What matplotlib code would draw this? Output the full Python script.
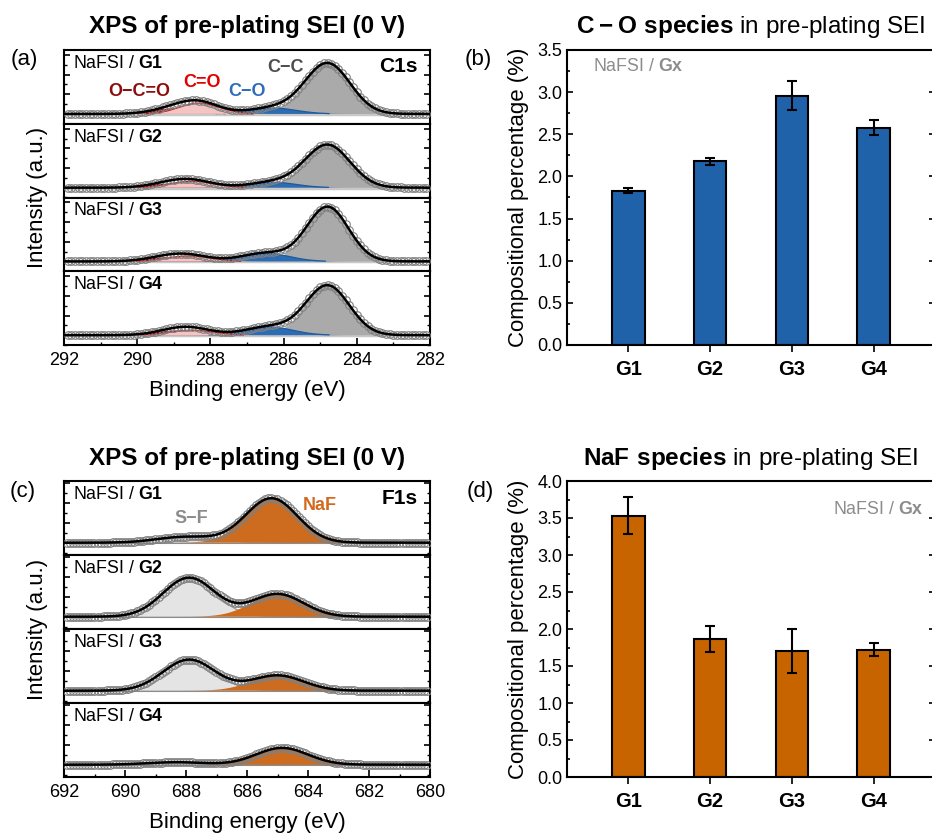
import numpy as np
import matplotlib
matplotlib.use('Agg')
import matplotlib.pyplot as plt
from matplotlib.ticker import MultipleLocator

plt.rcParams['font.family'] = 'Liberation Sans'
plt.rcParams['mathtext.fontset'] = 'custom'
plt.rcParams['mathtext.rm'] = 'Liberation Sans'
plt.rcParams['mathtext.bf'] = 'Liberation Sans:bold'
plt.rcParams['axes.linewidth'] = 1.5

samples = ['G1', 'G2', 'G3', 'G4']

# C1s peak fits: centre (eV), height (norm.), FWHM (eV)
cc_pos = [284.8, 284.8, 284.8, 284.8]
cc_h = [1.03, 0.87, 1.11, 1.01]
cc_w = [1.45, 1.45, 1.35, 1.40]
co_pos = [286.3, 286.3, 286.5, 286.4]
co_h = [0.12, 0.11, 0.17, 0.17]
co_w = [1.5, 1.5, 1.5, 1.5]
cdo_pos = [288.3, 288.5, 288.6, 288.5]
cdo_h = [0.22, 0.13, 0.11, 0.10]
cdo_w = [1.3, 1.4, 1.4, 1.4]
oco_pos = [289.0, 289.1, 289.2, 288.9]
oco_h = [0.10, 0.07, 0.07, 0.08]
oco_w = [1.4, 1.4, 1.4, 1.4]

# F1s peak fits
naf_pos = [685.2, 685.0, 685.0, 684.85]
naf_h = [0.90, 0.46, 0.31, 0.34]
naf_w = [2.0, 2.0, 2.0, 2.0]
sf_pos = [688.0, 687.9, 687.9, 688.3]
sf_h = [0.12, 0.79, 0.63, 0.05]
sf_w = [2.2, 2.0, 2.0, 2.2]

# compositional percentages (b) and (d)
co_pct = [1.83, 2.18, 2.96, 2.58]
co_err = [0.03, 0.04, 0.17, 0.09]
naf_pct = [3.53, 1.86, 1.70, 1.72]
naf_err = [0.25, 0.175, 0.30, 0.09]

W, H = 932, 836
fig = plt.figure(figsize=(W / 100, H / 100), dpi=100)


def box(l, t, r, b):
    return [l / W, 1 - b / H, (r - l) / W, (b - t) / H]


def peak(x, c, h, w):
    return h * np.exp(-4 * np.log(2) * (x - c) ** 2 / w ** 2)


def spectrum_panel(left, top, right, bottom, xlim, ylim, comps, base_kw, core, labels):
    axes = []
    step = (bottom - top) / 4
    for i in range(4):
        ax = fig.add_axes(box(left, top + i * step, right, top + (i + 1) * step))
        xf = np.arange(min(xlim), max(xlim) + 0.001, 0.02)
        xp = np.arange(min(xlim) + 0.1, max(xlim) - 0.05, 0.1)
        ax.axhline(0, zorder=1, **base_kw)
        env = np.zeros_like(xf)
        envp = np.zeros_like(xp)
        for pos, hh, ww, fc, ec in comps:
            y = peak(xf, pos[i], hh[i], ww[i])
            env += y
            envp += peak(xp, pos[i], hh[i], ww[i])
            ax.fill_between(xf, 0, y, facecolor=fc, lw=0, zorder=2)
            if ec is not None:
                m = y > 0.006
                ax.plot(xf[m], y[m], color=ec, lw=0.9, zorder=2)
        ax.plot(xp, envp, 'o', mfc='none', mec='#808080', ms=5.5, mew=0.8, zorder=3)
        ax.plot(xf, env, color='black', lw=1.8, zorder=4)
        ax.set_xlim(*xlim)
        ax.set_ylim(*ylim)
        ax.yaxis.set_major_locator(MultipleLocator(0.4))
        ax.yaxis.set_minor_locator(MultipleLocator(0.2))
        ax.xaxis.set_major_locator(MultipleLocator(2))
        ax.xaxis.set_minor_locator(MultipleLocator(1))
        last = i == 3
        ax.tick_params(which='both', direction='in', left=True, right=True, top=False,
                       bottom=last, labelleft=False, labelbottom=last, labelsize=13)
        ax.tick_params(which='major', length=4, width=1.2)
        ax.tick_params(which='minor', length=2.5, width=1)
        ax.tick_params(axis='x', which='major', length=5, pad=5)
        ax.text(0.025, 0.82, r'NaFSI / $\mathbf{%s}$' % samples[i], transform=ax.transAxes,
                fontsize=12.8, va='center', ha='left', zorder=5)
        axes.append(ax)
    axes[0].text(0.967, 0.77, core, transform=axes[0].transAxes, fontsize=15,
                 fontweight='bold', ha='right', va='center')
    for txt, x, y, col in labels:
        axes[0].text(x, y, txt, color=col, fontsize=13, fontweight='bold',
                     ha='center', va='center', zorder=5)
    axes[3].set_xlabel('Binding energy (eV)', fontsize=16, labelpad=8)
    fig.text(38 / W, 1 - (top + bottom) / 2 / H, 'Intensity (a.u.)', rotation=90,
             fontsize=16, ha='center', va='center')
    fig.text((left + right) / 2 / W, 1 - (top - 23) / H, 'XPS of pre-plating SEI (0 V)',
             fontsize=17.5, fontweight='bold', ha='center', va='center')
    return axes


c1s_comps = [
    (cc_pos, cc_h, cc_w, '#AAAAAA', None),
    (co_pos, co_h, co_w, '#2B6CB3', '#1D5A9E'),
    (oco_pos, oco_h, oco_w, '#B0262B', '#7A0A0A'),
    (cdo_pos, cdo_h, cdo_w, '#F3C4C4', '#E00000'),
]
c1s_labels = [
    ('C\u2212C', 285.94, 0.95, '#4D4D4D'),
    ('C=O', 288.24, 0.63, '#E30000'),
    ('C\u2212O', 287.0, 0.45, '#2E6EB8'),
    ('O\u2212C=O', 289.94, 0.45, '#8B0E0E'),
]
spectrum_panel(64, 50, 430, 345, (292, 282), (-0.2, 1.3), c1s_comps,
               dict(color='#C8C8C8', lw=2.5), 'C1s', c1s_labels)

f1s_comps = [
    (sf_pos, sf_h, sf_w, '#E4E4E4', '#9A9A9A'),
    (naf_pos, naf_h, naf_w, '#CD6B1E', None),
]
f1s_labels = [
    ('NaF', 683.6, 0.76, '#D2691E'),
    ('S\u2212F', 687.83, 0.48, '#8C8C8C'),
]
spectrum_panel(64, 481, 430, 777, (692, 680), (-0.25, 1.25), f1s_comps,
               dict(color='#8C8C8C', lw=1.5), 'F1s', f1s_labels)


def bar_panel(top, bottom, vals, errs, color, ymax, title, tag_xy, tag_ha):
    ax = fig.add_axes(box(567, top, 935, bottom))
    xs = np.arange(1, len(samples) + 1)
    ax.bar(xs, vals, width=0.4, color=color, edgecolor='black', lw=1.5, zorder=2)
    ax.errorbar(xs, vals, yerr=errs, fmt='none', ecolor='black', elinewidth=1.5,
                capsize=3.8, capthick=1.5, zorder=3)
    ax.set_xlim(0.25, 4.75)
    ax.set_ylim(0, ymax)
    ax.set_xticks(xs)
    ax.set_xticklabels(samples, fontsize=14.5, fontweight='bold')
    ax.yaxis.set_major_locator(MultipleLocator(0.5))
    ax.yaxis.set_minor_locator(MultipleLocator(0.25))
    ax.yaxis.set_major_formatter(matplotlib.ticker.FormatStrFormatter('%.1f'))
    ax.tick_params(axis='y', which='both', direction='in', left=True, right=True,
                   labelsize=13, width=1.2)
    ax.tick_params(axis='y', which='major', length=4)
    ax.tick_params(axis='y', which='minor', length=2.5)
    ax.tick_params(axis='x', direction='out', length=5, width=1.2, pad=6)
    ax.set_ylabel('Compositional percentage (%)', fontsize=16, labelpad=6)
    ax.text(tag_xy[0], tag_xy[1], r'NaFSI / $\mathbf{Gx}$', transform=ax.transAxes,
            color='#8C8C8C', fontsize=12.8, ha=tag_ha, va='center')
    fig.text(751 / W, 1 - (top - 23) / H, title, fontsize=17.5, ha='center', va='center')
    return ax


bar_panel(50, 345, co_pct, co_err, '#2062A9', 3.5,
          r'$\mathbf{C-O\ species}$ in pre-plating SEI', (0.07, 0.945), 'left')
bar_panel(481, 777, naf_pct, naf_err, '#C86400', 4.0,
          r'$\mathbf{NaF\ species}$ in pre-plating SEI', (0.97, 0.905), 'right')

for lab, x, y in [('(a)', 24, 60), ('(b)', 478, 60), ('(c)', 23, 492), ('(d)', 480, 492)]:
    fig.text(x / W, 1 - y / H, lab, fontsize=16, ha='center', va='center')

fig.savefig('out.png', dpi=100, facecolor='white')
